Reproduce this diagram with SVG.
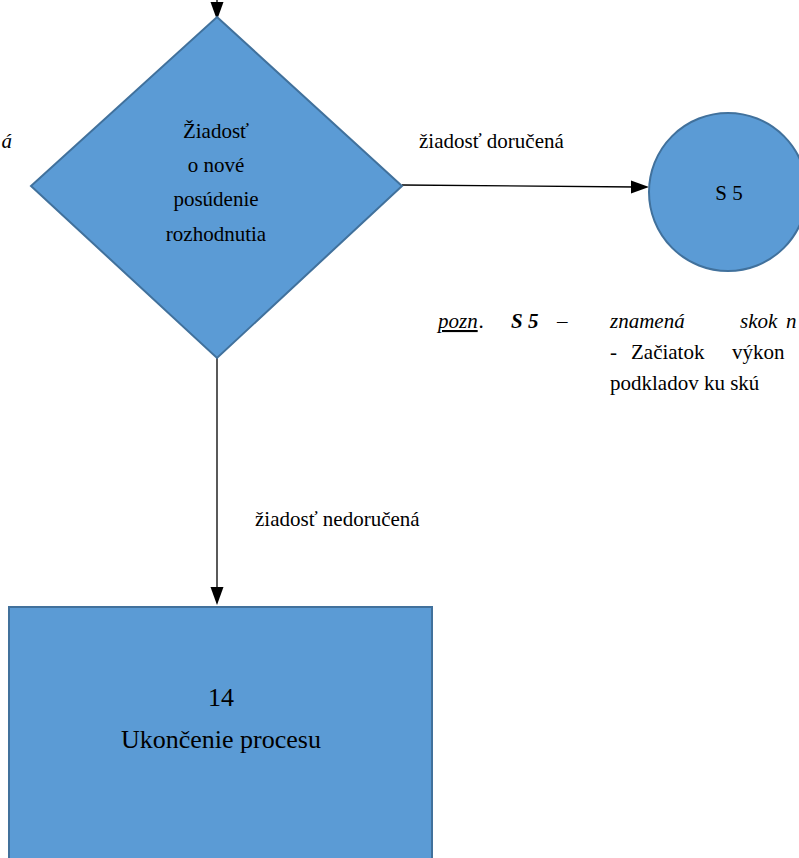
<svg xmlns="http://www.w3.org/2000/svg" width="799" height="858" viewBox="0 0 799 858">
<g id="connectors">
<line x1="217" y1="0" x2="217" y2="8" stroke="#000" stroke-width="1.3"/>
<polygon points="210.5,2 223.5,2 217,20" fill="#000"/>
<line x1="402" y1="185" x2="636" y2="187" stroke="#000" stroke-width="1.3"/>
<polygon points="631,180.5 649,187 631,193.5" fill="#000"/>
<line x1="217" y1="358" x2="217" y2="592" stroke="#000" stroke-width="1.3"/>
<polygon points="210.5,587 223.5,587 217,605" fill="#000"/>
</g>
<g id="decision">
<polygon fill="#5B9BD5" stroke="#41719C" stroke-width="2" points="217,17 402,186 217,358 31,186"/>
<text font-family="Liberation Serif" font-size="21" text-anchor="middle" x="216" y="138">Žiadosť</text>
<text font-family="Liberation Serif" font-size="21" text-anchor="middle" x="216" y="172">o nové</text>
<text font-family="Liberation Serif" font-size="21" text-anchor="middle" x="216" y="206">posúdenie</text>
<text font-family="Liberation Serif" font-size="21" text-anchor="middle" x="216" y="241">rozhodnutia</text>
</g>
<g id="s5">
<circle fill="#5B9BD5" stroke="#41719C" stroke-width="2" cx="728" cy="192" r="79"/>
<text font-family="Liberation Serif" font-size="21" text-anchor="middle" x="729" y="200">S 5</text>
</g>
<g id="end">
<rect fill="#5B9BD5" stroke="#41719C" stroke-width="2" x="9" y="607" width="423" height="260"/>
<text font-family="Liberation Serif" font-size="26" text-anchor="middle" x="221" y="706">14</text>
<text font-family="Liberation Serif" font-size="26" text-anchor="middle" x="221" y="748">Ukončenie procesu</text>
</g>
<g id="labels">
<text font-family="Liberation Serif" font-size="21" x="419" y="148">žiadosť doručená</text>
<text font-family="Liberation Serif" font-size="21" x="255" y="526">žiadosť nedoručená</text>
<text font-family="Liberation Serif" font-size="21" x="12" y="148" text-anchor="end" font-style="italic">á</text>
</g>
<g id="note">
<text font-family="Liberation Serif" font-size="21" x="438" y="328" font-style="italic" text-decoration="underline">pozn</text>
<text font-family="Liberation Serif" font-size="21" x="479" y="328" font-style="italic">.</text>
<text font-family="Liberation Serif" font-size="21" x="511" y="328" font-style="italic" font-weight="bold">S 5</text>
<text font-family="Liberation Serif" font-size="21" x="557" y="328" font-style="italic">–</text>
<text font-family="Liberation Serif" font-size="21" x="610" y="328" font-style="italic">znamená</text>
<text font-family="Liberation Serif" font-size="21" x="740" y="328" font-style="italic">skok</text>
<text font-family="Liberation Serif" font-size="21" x="786" y="328" font-style="italic">n</text>
<text font-family="Liberation Serif" font-size="21" x="610" y="359">-</text>
<text font-family="Liberation Serif" font-size="21" x="631" y="359">Začiatok</text>
<text font-family="Liberation Serif" font-size="21" x="732" y="359">výkon</text>
<text font-family="Liberation Serif" font-size="21" x="610" y="390">podkladov ku skú</text>
</g>
</svg>
